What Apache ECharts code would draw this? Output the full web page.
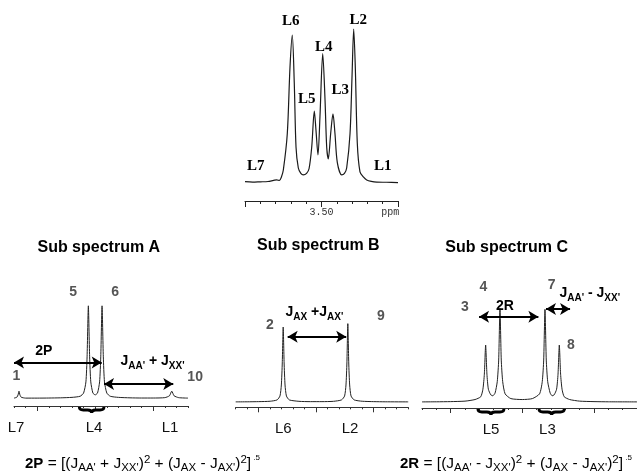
<!DOCTYPE html>
<html>
<head>
<meta charset="utf-8">
<title>AA'XX' sub spectra</title>
<script src="https://cdn.jsdelivr.net/npm/echarts@6/dist/echarts.min.js"></script>
<style>
html,body{margin:0;padding:0;background:#fff;}
#main{width:637px;height:473px;}
</style>
</head>
<body>
<div id="main"></div>
<script>
// full spectrum, [ppm, intensity]
var topSpectrum = [
	[3.600,0.6],[3.590,0.3],[3.580,0.5],[3.570,0.7],[3.5586,1.7],[3.5550,1.4],[3.5525,3.5],
	[3.5499,8.2],[3.5447,32],[3.5412,75],[3.5382,96],[3.5356,65],[3.5333,23],[3.5303,9.5],
	[3.5270,6],[3.5238,5],[3.5195,6],[3.5163,9],[3.5128,23],[3.5094,46.6],[3.5072,34],
	[3.5046,18],[3.5020,43],[3.4984,84],[3.4954,54],[3.4932,23],[3.4911,15.4],[3.4880,32],
	[3.4850,44.7],[3.4824,32],[3.4793,13],[3.4736,5],[3.4700,6],[3.4671,9.5],[3.4627,32],
	[3.4601,69],[3.4579,100],[3.4558,75],[3.4532,25.6],[3.4497,7],[3.4450,3.5],[3.4409,1.7],
	[3.4350,0.8],[3.4278,0.3],[3.415,0.2],[3.400,0]
];
// sub spectra, [position, intensity]
var subA = [
	[0,0.5],[0.25,1.5],[0.35,4],[0.43,8],[0.51,4],[0.62,1.5],[1,0.5],[2,0.5],[3,0.6],[4,0.8],
	[5,1.3],[5.7,2.5],[6.0,6],[6.2,18],[6.3,45],[6.41,100],[6.52,45],[6.62,18],[6.8,6],[7.0,4],
	[7.2,6],[7.38,18],[7.48,45],[7.59,100],[7.7,45],[7.8,18],[8.0,6],[8.3,2.5],[9,1.3],[10,0.8],
	[11,0.6],[12,0.6],[13,1],[13.4,3],[13.6,8],[13.8,3],[14.2,1],[15,0.5]
];
var subB = [
	[0,0.5],[1,0.6],[2,0.8],[3,1.3],[3.6,3],[3.85,8],[3.97,22],[4.05,50],[4.13,95.7],[4.21,50],
	[4.29,22],[4.41,8],[4.66,3],[5.5,1.2],[6.5,0.8],[7.5,0.8],[8.5,1.2],[9.2,3],[9.47,8],
	[9.59,22],[9.67,50],[9.75,100],[9.83,50],[9.91,22],[10.03,8],[10.3,3],[11,1.3],[12,0.8],
	[13,0.6],[15,0.5]
];
var subC = [
	[0,0.5],[1,0.6],[2,0.8],[3,1.3],[3.7,3],[4.1,6],[4.25,14],[4.35,30],[4.44,61],[4.53,30],
	[4.63,14],[4.8,8],[4.94,7],[5.1,10],[5.25,22],[5.35,45],[5.44,100],[5.53,45],[5.63,22],
	[5.8,9],[6.2,4],[7,3],[7.7,4],[8.2,9],[8.39,22],[8.49,45],[8.58,99],[8.67,45],[8.77,22],
	[8.94,10],[9.08,7],[9.22,8],[9.39,14],[9.49,30],[9.58,61],[9.67,30],[9.77,14],[9.92,6],
	[10.3,3],[11,1.3],[12,0.8],[13,0.6],[15,0.5]
];

// line names of the full spectrum
var topNames = ['L7','L6','L5','L4','L3','L2','L1'];
var topNameAt = [[3.586,10.6],[3.5401,105],[3.5193,54.3],[3.497,88.5],[3.4754,60.3],[3.4519,106],[3.4199,10.6]];

// line names under each sub spectrum
var subANames = ['L7','L4','L1'], subATicks = [0.17,6.9,13.45];
var subBNames = ['L6','L2'], subBTicks = [4.14,9.94];
var subCNames = ['L5','L3'], subCTicks = [4.82,8.75];

// transition numbers
var subANums = ['1','5','6','10'], subANumAt = [[0.2,24.3],[5.09,114.8],[8.71,114.8],[14.9,23.2]];
var subBNums = ['2','9'], subBNumAt = [[2.98,98.2],[12.63,110]];
var subCNums = ['3','4','7','8'], subCNumAt = [[3.0,101.3],[4.28,123],[9.05,124.8],[10.38,61]];

// double arrows and braces
var subAArrows = [[[0,39],[7.56,39]],[[7.76,15.6],[13.73,15.6]]];
var subBArrows = [[[4.52,83.4],[9.61,83.4]]];
var subCArrows = [[[3.98,91],[8.12,91]],[[8.65,99.3],[10.33,99.3]]];
var subABraces = [[5.63,7.76]];
var subCBraces = [[3.9,5.72],[8.16,9.93]];

var SANS = 'Liberation Sans, Arial, sans-serif';

var jRich = {
	j: {fontFamily: SANS, fontWeight: 'bold', fontSize: 14, lineHeight: 20, color: '#000'},
	s: {fontFamily: SANS, fontWeight: 'bold', fontSize: 10, lineHeight: 9, verticalAlign: 'bottom', color: '#000'}
};
var fRich = {
	b: {fontFamily: SANS, fontWeight: 'bold', fontSize: 15, lineHeight: 20, color: '#000'},
	n: {fontFamily: SANS, fontSize: 15.5, lineHeight: 20, color: '#000'},
	s: {fontFamily: SANS, fontSize: 11.5, lineHeight: 10, verticalAlign: 'bottom', color: '#000'},
	p: {fontFamily: SANS, fontSize: 11.5, lineHeight: 11, verticalAlign: 'top', color: '#000'},
	q: {fontFamily: SANS, fontSize: 8, lineHeight: 8, verticalAlign: 'top', color: '#000'}
};

function numMarks(names, at) {
	return names.map(function (n, i) {
		var last = at[i][0] >= 14.5;
		return {
			coord: at[i],
			label: {
				formatter: n,
				position: last ? 'right' : 'inside',
				distance: 0,
				fontFamily: SANS, fontWeight: 'bold', fontSize: 14, color: '#555'
			}
		};
	});
}
function textMark(at, text, rich, pos) {
	return {coord: at, label: {formatter: text, rich: rich, position: pos, distance: 0}};
}
function arrowLines(list) {
	return list.map(function (a) { return [{coord: a[0]}, {coord: a[1]}]; });
}
function lookup(names, ticks) {
	return function (v) {
		var best = 0;
		for (var i = 1; i < ticks.length; i++) {
			if (Math.abs(ticks[i] - v) < Math.abs(ticks[best] - v)) best = i;
		}
		return names[best];
	};
}

var markBase = {symbol: 'circle', symbolSize: 1, silent: true, itemStyle: {color: 'rgba(0,0,0,0)'}};
var lineBase = {
	symbol: ['arrow', 'arrow'], symbolSize: [9, 10], silent: true,
	label: {show: false}, lineStyle: {color: '#000', width: 2, type: 'solid'}
};

function subAxes(grid, names, ticks) {
	return [
		{type: 'value', gridIndex: grid, position: 'bottom', min: 0, max: 15, interval: 1,
			axisLine: {onZero: false, lineStyle: {color: '#333', width: 1}},
			axisTick: {length: 2, lineStyle: {color: '#333'}},
			axisLabel: {show: false}, splitLine: {show: false}},
		{type: 'value', gridIndex: grid, position: 'bottom', min: 0, max: 15,
			axisLine: {show: false, onZero: false},
			axisTick: {customValues: [2, 7, 12], length: 5, lineStyle: {color: '#333'}},
			axisLabel: {customValues: ticks, formatter: lookup(names, ticks), margin: 14,
				fontFamily: SANS, fontSize: 15, color: '#111'},
			splitLine: {show: false}}
	];
}

function braceSeries(xIdx, yIdx, yMin, data) {
	return {
		type: 'custom', xAxisIndex: xIdx, yAxisIndex: yIdx, clip: false, silent: true,
		data: data,
		renderItem: function (params, api) {
			var a = api.coord([api.value(0), yMin]);
			var b = api.coord([api.value(1), yMin]);
			var x1 = a[0], x2 = b[0], y0 = a[1] + 1, h = 6, r = 4;
			var xm = (x1 + x2) / 2, ym = y0 + h / 2, yt = y0 + h;
			var d = 'M' + x1 + ' ' + y0 + ' Q' + x1 + ' ' + ym + ' ' + (x1 + r) + ' ' + ym +
				' L' + (xm - r) + ' ' + ym + ' Q' + xm + ' ' + ym + ' ' + xm + ' ' + yt +
				' Q' + xm + ' ' + ym + ' ' + (xm + r) + ' ' + ym +
				' L' + (x2 - r) + ' ' + ym + ' Q' + x2 + ' ' + ym + ' ' + x2 + ' ' + y0;
			return {type: 'path', shape: {pathData: d}, style: {stroke: '#000', lineWidth: 2.8, fill: null}};
		}
	};
}

var option = {
	animation: false,
	backgroundColor: '#fff',
	grid: [
		{left: 245, right: 239, top: 6, bottom: 272},
		{left: 14, right: 449, top: 278, bottom: 67},
		{left: 235.7, right: 228.8, top: 304, bottom: 65.7},
		{left: 422, right: 0, top: 275.5, bottom: 65}
	],
	xAxis: [
		{type: 'value', gridIndex: 0, position: 'bottom', min: 3.40, max: 3.60, interval: 0.02, inverse: true,
			axisLine: {onZero: false, lineStyle: {color: '#222', width: 1}},
			axisTick: {length: 3, lineStyle: {color: '#222'}},
			axisLabel: {show: false}, splitLine: {show: false}},
		{type: 'value', gridIndex: 0, position: 'bottom', min: 3.40, max: 3.60, inverse: true,
			axisLine: {show: false, onZero: false},
			axisTick: {customValues: [3.4, 3.5, 3.6], length: 6, lineStyle: {color: '#222'}},
			axisLabel: {customValues: [3.5, 3.41], margin: 6,
				formatter: function (v) { return v > 3.45 ? '3.50' : 'ppm'; },
				fontFamily: 'Liberation Mono, monospace', fontSize: 10, color: '#333'},
			splitLine: {show: false}}
	].concat(subAxes(1, subANames, subATicks), subAxes(2, subBNames, subBTicks), subAxes(3, subCNames, subCTicks)),
	yAxis: [
		{type: 'value', gridIndex: 0, min: -12, max: 115, show: false},
		{type: 'value', gridIndex: 1, min: -8, max: 130, show: false},
		{type: 'value', gridIndex: 2, min: -6.4, max: 125, show: false},
		{type: 'value', gridIndex: 3, min: -6, max: 135, show: false}
	],
	graphic: [
		{type: 'text', x: 98.8, y: 248, style: {text: 'Sub spectrum A', align: 'center', verticalAlign: 'middle',
			font: 'bold 16px ' + SANS, fill: '#000'}},
		{type: 'text', x: 318.3, y: 246, style: {text: 'Sub spectrum B', align: 'center', verticalAlign: 'middle',
			font: 'bold 16px ' + SANS, fill: '#000'}},
		{type: 'text', x: 506.7, y: 248, style: {text: 'Sub spectrum C', align: 'center', verticalAlign: 'middle',
			font: 'bold 16px ' + SANS, fill: '#000'}},
		{type: 'text', x: 25, y: 464, style: {verticalAlign: 'middle', rich: fRich,
			text: "{b|2P}{n| = [(J}{s|AA'}{n| + J}{s|XX'}{n|)}{p|2}{n| + (J}{s|AX}{n| - J}{s|AX'}{n|)}{p|2}{n|]}{q| .5}"}},
		{type: 'text', x: 400, y: 464, style: {verticalAlign: 'middle', rich: fRich,
			text: "{b|2R}{n| = [(J}{s|AA'}{n| - J}{s|XX'}{n|)}{p|2}{n| + (J}{s|AX}{n| - J}{s|AX'}{n|)}{p|2}{n|]}{q| .5}"}}
	],
	series: [
		{
			type: 'line', xAxisIndex: 0, yAxisIndex: 0, data: topSpectrum,
			showSymbol: false, smooth: 0.3, lineStyle: {color: '#1a1a1a', width: 1.2},
			markPoint: Object.assign({}, markBase, {
				data: topNames.map(function (n, i) {
					return {coord: topNameAt[i], label: {formatter: n, position: 'inside',
						fontFamily: 'Liberation Serif, Times New Roman, serif', fontWeight: 'bold', fontSize: 15, color: '#000'}};
				})
			})
		},
		{
			type: 'line', xAxisIndex: 2, yAxisIndex: 1, data: subA,
			showSymbol: false, smooth: 0.2, lineStyle: {color: '#222', width: 1},
			markPoint: Object.assign({}, markBase, {
				data: numMarks(subANums, subANumAt).concat([
					{coord: [2.57, 51.4], label: {formatter: '2P', position: 'inside',
						fontFamily: SANS, fontWeight: 'bold', fontSize: 14, color: '#000'}},
					textMark([9.14, 40.4], "{j|J}{s|AA'}{j| + J}{s|XX'}", jRich, 'right')
				])
			}),
			markLine: Object.assign({}, lineBase, {data: arrowLines(subAArrows)})
		},
		{
			type: 'line', xAxisIndex: 4, yAxisIndex: 2, data: subB,
			showSymbol: false, smooth: 0.2, lineStyle: {color: '#222', width: 1},
			markPoint: Object.assign({}, markBase, {
				data: numMarks(subBNums, subBNumAt).concat([
					textMark([4.29, 114.4], "{j|J}{s|AX}{j| +J}{s|AX'}", jRich, 'right')
				])
			}),
			markLine: Object.assign({}, lineBase, {data: arrowLines(subBArrows)})
		},
		{
			type: 'line', xAxisIndex: 6, yAxisIndex: 3, data: subC,
			showSymbol: false, smooth: 0.2, lineStyle: {color: '#222', width: 1},
			markPoint: Object.assign({}, markBase, {
				data: numMarks(subCNums, subCNumAt).concat([
					{coord: [5.79, 102.4], label: {formatter: '2R', position: 'inside',
						fontFamily: SANS, fontWeight: 'bold', fontSize: 14, color: '#000'}},
					textMark([9.56, 116], "{j|J}{s|AA'}{j| - J}{s|XX'}", jRich, 'right')
				])
			}),
			markLine: Object.assign({}, lineBase, {data: arrowLines(subCArrows)})
		},
		braceSeries(2, 1, -8, subABraces),
		braceSeries(6, 3, -6, subCBraces)
	]
};

var myChart = echarts.init(document.getElementById('main'), null, {renderer: 'canvas'});
myChart.setOption(option);
</script>
</body>
</html>
